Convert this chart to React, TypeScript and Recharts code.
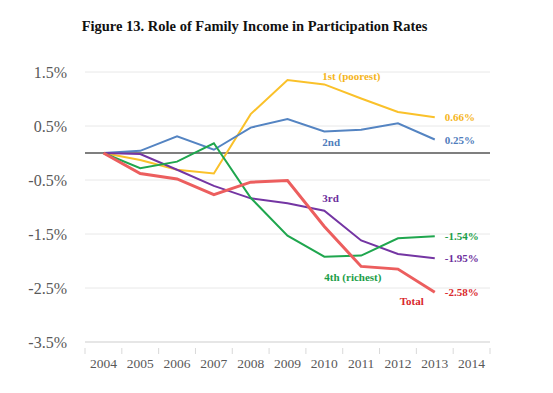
import { LineChart, Line, XAxis, YAxis, CartesianGrid, ReferenceLine, LabelList } from 'recharts';

const years = ['2004', '2005', '2006', '2007', '2008', '2009', '2010', '2011', '2012', '2013', '2014'];
const poorest = [0, -0.13, -0.31, -0.38, 0.72, 1.35, 1.27, 1.01, 0.76, 0.66, null];
const second = [0, 0.04, 0.31, 0.06, 0.47, 0.63, 0.4, 0.43, 0.55, 0.25, null];
const third = [0, -0.02, -0.31, -0.61, -0.84, -0.93, -1.07, -1.62, -1.87, -1.95, null];
const richest = [0, -0.28, -0.16, 0.18, -0.83, -1.53, -1.92, -1.9, -1.58, -1.54, null];
const total = [0, -0.38, -0.48, -0.77, -0.54, -0.51, -1.36, -2.1, -2.15, -2.58, null];
const yTicks = [-3.5, -2.5, -1.5, -0.5, 0.5, 1.5];

const data = years.map((year, i) => ({
    year,
    q1: poorest[i],
    q2: second[i],
    q3: third[i],
    q4: richest[i],
    total: total[i],
}));

const fmt = (v: number) => v.toFixed(2) + '%';

// series name sits next to one point, the end value next to the last one
const series = [
    { key: 'q1', name: '1st (poorest)', color: '#FAC12A', text: '#F5B51C', width: 2, at: 6, dx: -2, dy: -4, anchor: 'start' },
    { key: 'q2', name: '2nd', color: '#5484C2', text: '#4F7DBC', width: 2, at: 6, dx: -2, dy: 15, anchor: 'start' },
    { key: 'q3', name: '3rd', color: '#7435A3', text: '#6C2E9C', width: 2, at: 6, dx: -2, dy: -9, anchor: 'start' },
    { key: 'q4', name: '4th (richest)', color: '#1FA64E', text: '#1B9E48', width: 2, at: 6, dx: 0, dy: 24, anchor: 'start' },
    { key: 'total', name: 'Total', color: '#EC5E5E', text: '#D9272C', width: 3, at: 9, dx: -11, dy: 13, anchor: 'end' },
];

const lastIdx = 9;
const serif = '"Liberation Serif", "Times New Roman", serif';

const makeLabel = (s: typeof series[number]) => (p: any) => {
    const { x, y, index, value } = p;
    if (value == null) return null;
    const style = { fontFamily: serif, fontWeight: 700, fontSize: 11 };
    return (
        <g>
            {index === s.at && (
                <text x={x + s.dx} y={y + s.dy} textAnchor={s.anchor as any} fill={s.text} style={style}>
                    {s.name}
                </text>
            )}
            {index === lastIdx && (
                <text x={x + 10} y={y + 4} textAnchor="start" fill={s.text} style={style}>
                    {fmt(value)}
                </text>
            )}
        </g>
    );
};

const XTick = (props: any) => {
    const { x, y, payload, index } = props;
    const half = payload.offset || 18.4;
    return (
        <g>
            <line x1={x - half} x2={x - half} y1={y - 8} y2={y - 2} stroke="#d9d9d9" />
            {index === years.length - 1 && (
                <line x1={x + half} x2={x + half} y1={y - 8} y2={y - 2} stroke="#d9d9d9" />
            )}
            <text x={x} y={y + 12} textAnchor="middle" fill="#595959"
                style={{ fontFamily: serif, fontSize: 13.5 }}>
                {payload.value}
            </text>
        </g>
    );
};

export default function App() {
    return (
        <div style={{ position: 'absolute', left: 0, top: 0, width: 553, height: 393, background: '#fff' }}>
            <div style={{
                position: 'absolute', top: 18, left: 0, width: 509, textAlign: 'center',
                fontFamily: serif, fontWeight: 700, fontSize: 14.5, color: '#111',
            }}>
                Figure 13. Role of Family Income in Participation Rates
            </div>
            <LineChart width={553} height={393} data={data} margin={{ top: 72, right: 63, left: 0, bottom: 0 }}>
                <CartesianGrid vertical={false} stroke="#e8e8e8" />
                <XAxis dataKey="year" scale="band" height={51} axisLine={{ stroke: '#d9d9d9' }}
                    tickLine={false} tickMargin={8} tick={<XTick />} interval={0} />
                <YAxis type="number" domain={[-3.5, 1.5]} ticks={yTicks} width={85} axisLine={false}
                    tickLine={false} tickSize={0} tickMargin={18} tickFormatter={(v: number) => v.toFixed(1) + '%'}
                    tick={{ fill: '#595959', fontFamily: serif, fontSize: 16 }} />
                <ReferenceLine y={0} stroke="#7f7f7f" strokeWidth={2} />
                {series.map((s) => (
                    <Line key={s.key} dataKey={s.key} stroke={s.color} strokeWidth={s.width} dot={false}
                        type="linear" isAnimationActive={false}>
                        <LabelList dataKey={s.key} content={makeLabel(s)} />
                    </Line>
                ))}
            </LineChart>
        </div>
    );
}
